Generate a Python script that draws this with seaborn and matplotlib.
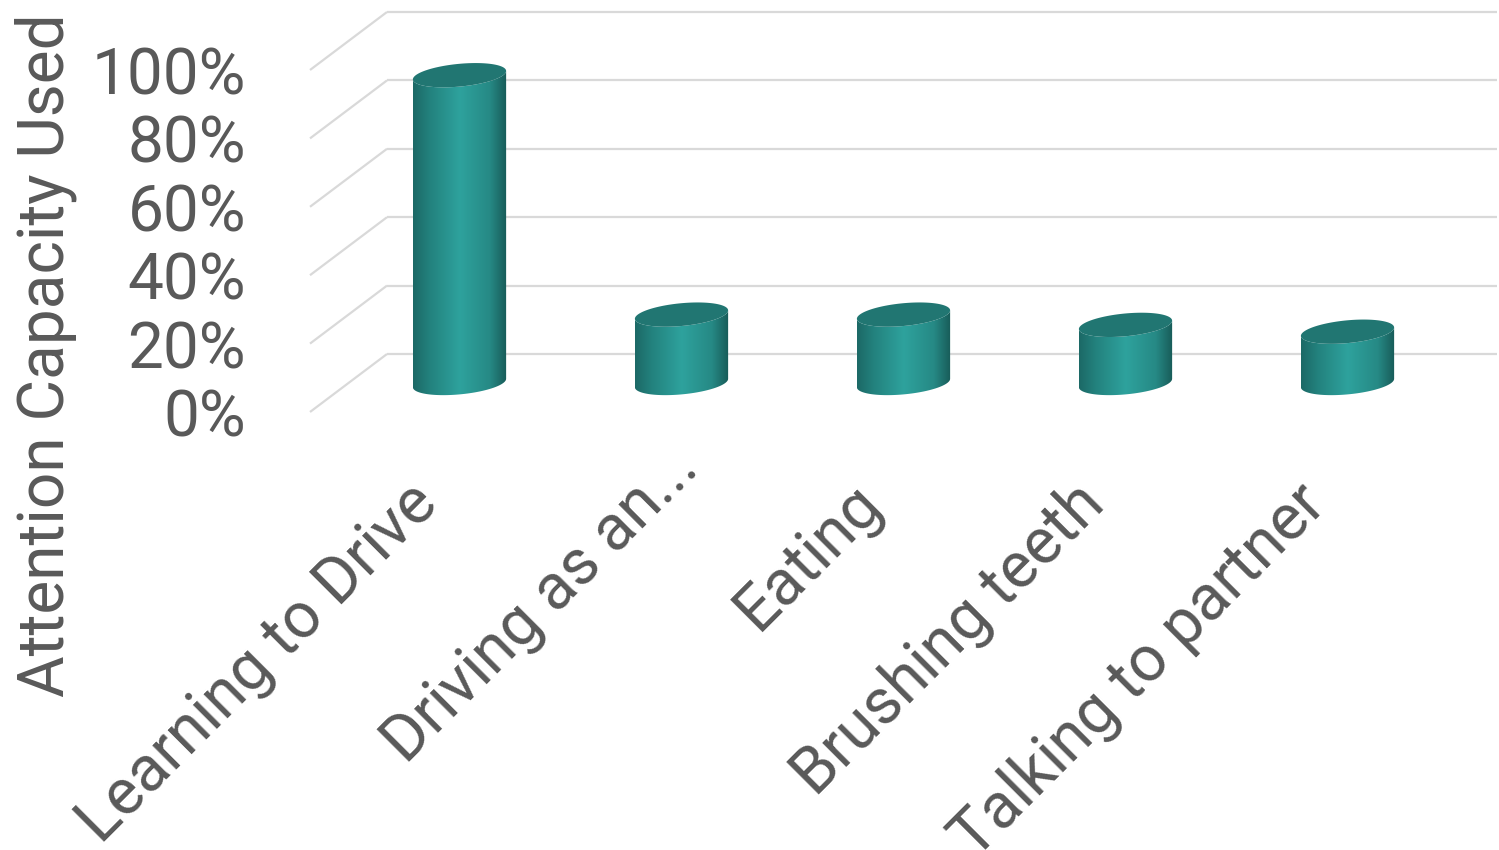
import numpy as np
import matplotlib
matplotlib.use("Agg")
import matplotlib.pyplot as plt
import seaborn as sns
from matplotlib.patches import Polygon
from matplotlib.transforms import ScaledTranslation
from matplotlib.colors import LinearSegmentedColormap

# ---------------- data ----------------
categories = ["Learning to Drive", "Driving as an...", "Eating",
              "Brushing teeth", "Talking to partner"]
values = [90, 20, 20, 17, 15]
y_ticks = [0, 20, 40, 60, 80, 100]
y_tick_labels = ["0%", "20%", "40%", "60%", "80%", "100%"]
y_title = "Attention Capacity Used"

# ---------------- style ----------------
sns.set_theme(style="white")
plt.rcParams['font.family'] = ['Roboto', 'DejaVu Sans']
TEXT = "#595959"
GRID = "#d9d9d9"
FS = 46

W, H, DPI = 1499, 850, 100
fig = plt.figure(figsize=(W / DPI, H / DPI), dpi=DPI)
# axes = front plane of the 3-D box (pixel extents)
fl, fr, fb, ft = 310, 1420, 412, 70
ax = fig.add_axes([fl / W, 1 - fb / H, (fr - fl) / W, (fb - ft) / H])

sns.barplot(x=categories, y=values, width=0.42, ax=ax, color="#2a9d98")
n = len(categories)
ax.set_xlim(-0.5, n - 0.5)
ax.set_ylim(0, 100)
for s in ax.spines.values():
    s.set_visible(False)


def off(dx, dy):
    """pixel offset -> data offset"""
    inv = ax.transData.inverted()
    a = inv.transform((0, 0))
    b = inv.transform((dx, dy))
    return b - a


# depth of the box (front -> back) in pixels
DEPTH = (77, 58)
bdx, bdy = off(*DEPTH)
mdx, mdy = off(DEPTH[0] / 2, DEPTH[1] / 2)

# ---------------- gridlines (back wall + floor diagonals) ----------------
x0, x1 = -0.5, n - 0.5
for v in y_ticks:
    ax.plot([x0 + bdx, x1 + bdx], [v + bdy, v + bdy], color=GRID, lw=1.6,
            clip_on=False, zorder=0, solid_capstyle="butt")
    ax.plot([x0, x0 + bdx], [v, v + bdy], color=GRID, lw=1.6,
            clip_on=False, zorder=0, solid_capstyle="butt")

# ---------------- cylinders built on seaborn bars ----------------
cmap = LinearSegmentedColormap.from_list(
    "cyl", [(0.0, "#1c6966"), (0.18, "#23827e"), (0.5, "#2ea29d"),
            (0.82, "#268985"), (1.0, "#185b58")])
grad = cmap(np.linspace(0, 1, 256))[None, :, :]

s_tilt = off(0, 4.2)[1]
k_ell = off(0, 11.4)[1]
t_front = np.linspace(np.pi, 2 * np.pi, 80)
t_full = np.linspace(0, 2 * np.pi, 160)

bars = list(ax.patches)
for p in bars:
    cx = p.get_x() + p.get_width() / 2 + mdx
    half = p.get_width() / 2
    h = p.get_height()
    yb, yt = 0 + mdy, h + mdy
    p.set_visible(False)

    def ell(t, cy):
        return np.column_stack([cx + half * np.cos(t),
                                cy + s_tilt * np.cos(t) + k_ell * np.sin(t)])

    body = np.vstack([ell(t_front, yb), ell(t_front[::-1], yt)])
    poly = Polygon(body, closed=True, facecolor="none", edgecolor="none",
                   zorder=2, clip_on=False)
    ax.add_patch(poly)
    im = ax.imshow(grad, extent=[cx - half, cx + half, yb - 2 * k_ell, yt + 2 * k_ell],
                   origin="lower", aspect="auto", zorder=2, interpolation="bilinear")
    im.set_clip_path(poly)
    top = Polygon(ell(t_full, yt), closed=True, facecolor="#217672",
                  edgecolor="none", zorder=3, clip_on=False)
    ax.add_patch(top)

ax.set_xlim(-0.5, n - 0.5)
ax.set_ylim(0, 100)
ax.set_aspect("auto")

# ---------------- ticks & labels ----------------
ax.set_yticks(y_ticks, y_tick_labels)
ax.tick_params(axis="y", length=0, pad=46, labelsize=FS, labelcolor=TEXT)
ax.set_xticks(range(n), categories)
ax.tick_params(axis="x", length=0, pad=43, labelsize=FS, labelcolor=TEXT)
# extra nudge (pixels) for the truncated label, as placed in the original
label_nudge = {1: (38, 35)}
for i, lab in enumerate(ax.get_xticklabels()):
    ndx, ndy = label_nudge.get(i, (0, 0))
    lab.set_rotation(45)
    lab.set_ha("right")
    lab.set_transform(lab.get_transform() +
                      ScaledTranslation((29 + ndx) / DPI, ndy / DPI,
                                        fig.dpi_scale_trans))
ax.set_xlabel("")
ax.set_ylabel(y_title, fontsize=FS, color=TEXT)
ax.yaxis.set_label_coords(-0.21, 0.167)
ax.grid(False)

fig.savefig("out.png", dpi=DPI)
